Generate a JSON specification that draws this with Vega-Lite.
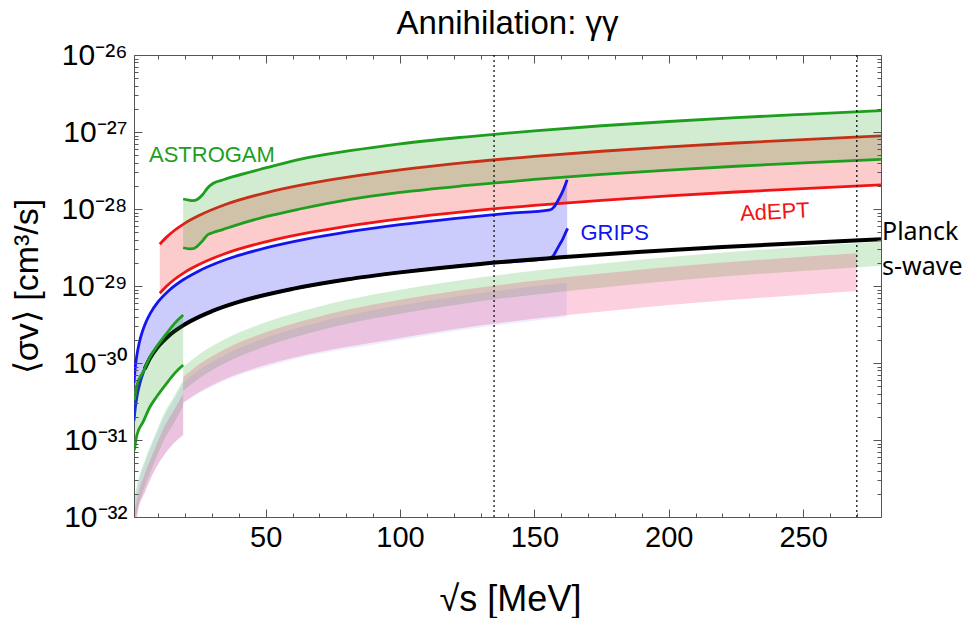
{
 "$schema": "https://vega.github.io/schema/vega-lite/v6.json",
 "width": 747, "height": 462,
 "autosize": {"type": "none"},
 "padding": {"left": 134, "top": 55, "right": 84, "bottom": 101},
 "background": "white",
 "title": {"text": "Annihilation: γγ", "font": "Arial, Liberation Sans, sans-serif", "fontSize": 33, "fontWeight": "normal", "color": "#000", "frame": "group", "anchor": "middle", "baseline": "alphabetic", "offset": -27},
 "config": {
  "view": {"stroke": "#555", "strokeWidth": 1},
  "axis": {"grid": false, "domain": false, "minExtent": 0, "tickColor": "#555", "tickWidth": 1, "labelFont": "Arial, Liberation Sans, sans-serif", "labelColor": "#000", "titleFont": "Arial, Liberation Sans, sans-serif", "titleColor": "#000", "titleFontWeight": "normal", "labelFlush": false, "labelOverlap": false, "labelBound": false}
 },
 "datasets": {
  "hatch": [
   {"set":"hASTROGAM","part":"hi","x":19.3,"lo":4.34e-31,"hi":8.9e-31},
   {"set":"hASTROGAM","part":"hi","x":25,"lo":6.25e-31,"hi":1.282e-30},
   {"set":"hASTROGAM","part":"hi","x":35,"lo":1.0e-30,"hi":2.05e-30},
   {"set":"hASTROGAM","part":"hi","x":50,"lo":1.654e-30,"hi":3.39e-30},
   {"set":"hASTROGAM","part":"hi","x":70,"lo":2.65e-30,"hi":5.43e-30},
   {"set":"hASTROGAM","part":"hi","x":90,"lo":3.77e-30,"hi":7.73e-30},
   {"set":"hASTROGAM","part":"hi","x":120,"lo":5.64e-30,"hi":1.156e-29},
   {"set":"hASTROGAM","part":"hi","x":150,"lo":7.71e-30,"hi":1.58e-29},
   {"set":"hASTROGAM","part":"hi","x":180,"lo":9.95e-30,"hi":2.04e-29},
   {"set":"hASTROGAM","part":"hi","x":210,"lo":1.239e-29,"hi":2.54e-29},
   {"set":"hASTROGAM","part":"hi","x":240,"lo":1.488e-29,"hi":3.05e-29},
   {"set":"hASTROGAM","part":"hi","x":279,"lo":1.839e-29,"hi":3.77e-29},
   {"set":"hAdEPT","part":"hi","x":19.3,"lo":3.07e-31,"hi":6.59e-31},
   {"set":"hAdEPT","part":"hi","x":25,"lo":4.14e-31,"hi":9.5e-31},
   {"set":"hAdEPT","part":"hi","x":35,"lo":6.2e-31,"hi":1.52e-30},
   {"set":"hAdEPT","part":"hi","x":50,"lo":9.4e-31,"hi":2.51e-30},
   {"set":"hAdEPT","part":"hi","x":70,"lo":1.39e-30,"hi":4.02e-30},
   {"set":"hAdEPT","part":"hi","x":90,"lo":1.84e-30,"hi":5.73e-30},
   {"set":"hAdEPT","part":"hi","x":120,"lo":2.75e-30,"hi":8.56e-30},
   {"set":"hAdEPT","part":"hi","x":150,"lo":3.76e-30,"hi":1.17e-29},
   {"set":"hAdEPT","part":"hi","x":180,"lo":4.86e-30,"hi":1.511e-29},
   {"set":"hAdEPT","part":"hi","x":210,"lo":6.05e-30,"hi":1.881e-29},
   {"set":"hAdEPT","part":"hi","x":240,"lo":7.26e-30,"hi":2.26e-29},
   {"set":"hAdEPT","part":"hi","x":270,"lo":8.6e-30,"hi":2.67e-29},
   {"set":"hGRIPS","part":"hi","x":19.3,"lo":2.97e-31,"hi":5.56e-31},
   {"set":"hGRIPS","part":"hi","x":25,"lo":4.0e-31,"hi":8.0e-31},
   {"set":"hGRIPS","part":"hi","x":35,"lo":5.94e-31,"hi":1.28e-30},
   {"set":"hGRIPS","part":"hi","x":50,"lo":8.9e-31,"hi":2.12e-30},
   {"set":"hGRIPS","part":"hi","x":70,"lo":1.32e-30,"hi":3.39e-30},
   {"set":"hGRIPS","part":"hi","x":90,"lo":1.73e-30,"hi":4.83e-30},
   {"set":"hGRIPS","part":"hi","x":120,"lo":2.59e-30,"hi":7.2e-30},
   {"set":"hGRIPS","part":"hi","x":150,"lo":3.54e-30,"hi":9.9e-30},
   {"set":"hGRIPS","part":"hi","x":162,"lo":3.95e-30,"hi":1.1e-29},
   {"set":"hASTROGAM","part":"lo","x":1.34,"lo":8.8e-33,"hi":1.93e-32},
   {"set":"hASTROGAM","part":"lo","x":2.57,"lo":1.38e-32,"hi":3.03e-32},
   {"set":"hASTROGAM","part":"lo","x":5.06,"lo":2.5e-32,"hi":5.5e-32},
   {"set":"hASTROGAM","part":"lo","x":8.78,"lo":5.3e-32,"hi":1.16e-31},
   {"set":"hASTROGAM","part":"lo","x":12.5,"lo":1.05e-31,"hi":2.31e-31},
   {"set":"hASTROGAM","part":"lo","x":16,"lo":1.69e-31,"hi":3.72e-31},
   {"set":"hASTROGAM","part":"lo","x":19.3,"lo":2.73e-31,"hi":6.0e-31},
   {"set":"hAdEPT","part":"lo","x":1.34,"lo":6.8e-33,"hi":1.29e-32},
   {"set":"hAdEPT","part":"lo","x":2.57,"lo":1.23e-32,"hi":2.02e-32},
   {"set":"hAdEPT","part":"lo","x":5.06,"lo":2.1e-32,"hi":3.67e-32},
   {"set":"hAdEPT","part":"lo","x":8.78,"lo":4.1e-32,"hi":7.7e-32},
   {"set":"hAdEPT","part":"lo","x":12.5,"lo":6.6e-32,"hi":1.54e-31},
   {"set":"hAdEPT","part":"lo","x":16,"lo":9.2e-32,"hi":2.48e-31},
   {"set":"hAdEPT","part":"lo","x":19.3,"lo":1.16e-31,"hi":4.0e-31},
   {"set":"hGRIPS","part":"lo","x":1.34,"lo":6.8e-33,"hi":1.75e-32},
   {"set":"hGRIPS","part":"lo","x":2.57,"lo":1.23e-32,"hi":2.75e-32},
   {"set":"hGRIPS","part":"lo","x":5.06,"lo":2.1e-32,"hi":5.0e-32},
   {"set":"hGRIPS","part":"lo","x":8.78,"lo":4.1e-32,"hi":1.05e-31},
   {"set":"hGRIPS","part":"lo","x":12.5,"lo":6.6e-32,"hi":2.1e-31},
   {"set":"hGRIPS","part":"lo","x":16,"lo":9.2e-32,"hi":3.38e-31},
   {"set":"hGRIPS","part":"lo","x":19.3,"lo":1.16e-31,"hi":5.45e-31}
  ],
  "areas": [
   {"set":"AdEPT","part":"m","x":10.6,"lo":8.06e-30,"hi":3.49e-29},
   {"set":"AdEPT","part":"m","x":13,"lo":9.88e-30,"hi":4.28e-29},
   {"set":"AdEPT","part":"m","x":16,"lo":1.215e-29,"hi":5.26e-29},
   {"set":"AdEPT","part":"m","x":20,"lo":1.516e-29,"hi":6.56e-29},
   {"set":"AdEPT","part":"m","x":25,"lo":1.885e-29,"hi":8.16e-29},
   {"set":"AdEPT","part":"m","x":35,"lo":2.64e-29,"hi":1.143e-28},
   {"set":"AdEPT","part":"m","x":50,"lo":3.75e-29,"hi":1.624e-28},
   {"set":"AdEPT","part":"m","x":65,"lo":4.86e-29,"hi":2.1e-28},
   {"set":"AdEPT","part":"m","x":80,"lo":5.96e-29,"hi":2.58e-28},
   {"set":"AdEPT","part":"m","x":100,"lo":7.43e-29,"hi":3.22e-28},
   {"set":"AdEPT","part":"m","x":125,"lo":9.29e-29,"hi":4.02e-28},
   {"set":"AdEPT","part":"m","x":150,"lo":1.114e-28,"hi":4.82e-28},
   {"set":"AdEPT","part":"m","x":175,"lo":1.297e-28,"hi":5.62e-28},
   {"set":"AdEPT","part":"m","x":200,"lo":1.479e-28,"hi":6.4e-28},
   {"set":"AdEPT","part":"m","x":225,"lo":1.663e-28,"hi":7.2e-28},
   {"set":"AdEPT","part":"m","x":250,"lo":1.841e-28,"hi":7.97e-28},
   {"set":"AdEPT","part":"m","x":279,"lo":2.056e-28,"hi":8.9e-28},
   {"set":"GRIPS","part":"m","x":1,"lo":1.78e-31,"hi":5.5e-31},
   {"set":"GRIPS","part":"m","x":1.5,"lo":2.64e-31,"hi":9.0e-31},
   {"set":"GRIPS","part":"m","x":2,"lo":3.48e-31,"hi":1.22e-30},
   {"set":"GRIPS","part":"m","x":3,"lo":5.13e-31,"hi":1.86e-30},
   {"set":"GRIPS","part":"m","x":4,"lo":6.78e-31,"hi":2.49e-30},
   {"set":"GRIPS","part":"m","x":5,"lo":8.4e-31,"hi":3.12e-30},
   {"set":"GRIPS","part":"m","x":7,"lo":1.161e-30,"hi":4.37e-30},
   {"set":"GRIPS","part":"m","x":10,"lo":1.637e-30,"hi":6.25e-30},
   {"set":"GRIPS","part":"m","x":14,"lo":2.265e-30,"hi":8.75e-30},
   {"set":"GRIPS","part":"m","x":19.3,"lo":3.08e-30,"hi":1.206e-29},
   {"set":"GRIPS","part":"m","x":25,"lo":3.95e-30,"hi":1.56e-29},
   {"set":"GRIPS","part":"m","x":35,"lo":5.47e-30,"hi":2.19e-29},
   {"set":"GRIPS","part":"m","x":50,"lo":7.71e-30,"hi":3.12e-29},
   {"set":"GRIPS","part":"m","x":65,"lo":9.93e-30,"hi":4.06e-29},
   {"set":"GRIPS","part":"m","x":80,"lo":1.214e-29,"hi":5.0e-29},
   {"set":"GRIPS","part":"m","x":100,"lo":1.503e-29,"hi":6.25e-29},
   {"set":"GRIPS","part":"m","x":120,"lo":1.79e-29,"hi":7.5e-29},
   {"set":"GRIPS","part":"m","x":140,"lo":2.08e-29,"hi":8.75e-29},
   {"set":"GRIPS","part":"m","x":155.8,"lo":2.3e-29,"hi":9.74e-29},
   {"set":"GRIPS","part":"m","x":157.5,"lo":2.325e-29,"hi":1.08e-28},
   {"set":"GRIPS","part":"m","x":159,"lo":2.35e-29,"hi":1.33e-28},
   {"set":"GRIPS","part":"m","x":160.5,"lo":2.37e-29,"hi":1.68e-28},
   {"set":"GRIPS","part":"m","x":162.2,"lo":2.39e-29,"hi":2.4e-28},
   {"set":"ASTROGAM","part":"hi","x":19.3,"lo":3.14e-29,"hi":1.349e-28},
   {"set":"ASTROGAM","part":"hi","x":21.5,"lo":3.04e-29,"hi":1.3e-28},
   {"set":"ASTROGAM","part":"hi","x":23,"lo":3.05e-29,"hi":1.282e-28},
   {"set":"ASTROGAM","part":"hi","x":24.5,"lo":3.28e-29,"hi":1.33e-28},
   {"set":"ASTROGAM","part":"hi","x":26.5,"lo":3.85e-29,"hi":1.53e-28},
   {"set":"ASTROGAM","part":"hi","x":28.3,"lo":4.6e-29,"hi":1.86e-28},
   {"set":"ASTROGAM","part":"hi","x":30.5,"lo":4.95e-29,"hi":2.158e-28},
   {"set":"ASTROGAM","part":"hi","x":34,"lo":5.4e-29,"hi":2.38e-28},
   {"set":"ASTROGAM","part":"hi","x":37.9,"lo":6.0e-29,"hi":2.626e-28},
   {"set":"ASTROGAM","part":"hi","x":50.4,"lo":8.0e-29,"hi":3.44e-28},
   {"set":"ASTROGAM","part":"hi","x":62.7,"lo":1.0e-28,"hi":4.42e-28},
   {"set":"ASTROGAM","part":"hi","x":81.4,"lo":1.336e-28,"hi":5.72e-28},
   {"set":"ASTROGAM","part":"hi","x":100,"lo":1.643e-28,"hi":7.03e-28},
   {"set":"ASTROGAM","part":"hi","x":125,"lo":2.024e-28,"hi":8.67e-28},
   {"set":"ASTROGAM","part":"hi","x":150,"lo":2.42e-28,"hi":1.037e-27},
   {"set":"ASTROGAM","part":"hi","x":175,"lo":2.81e-28,"hi":1.205e-27},
   {"set":"ASTROGAM","part":"hi","x":200,"lo":3.2e-28,"hi":1.368e-27},
   {"set":"ASTROGAM","part":"hi","x":225,"lo":3.59e-28,"hi":1.535e-27},
   {"set":"ASTROGAM","part":"hi","x":250,"lo":3.97e-28,"hi":1.698e-27},
   {"set":"ASTROGAM","part":"hi","x":279,"lo":4.42e-28,"hi":1.89e-27},
   {"set":"ASTROGAM","part":"lo","x":1.15,"lo":7.4e-32,"hi":3.3e-31},
   {"set":"ASTROGAM","part":"lo","x":2.08,"lo":1.16e-31,"hi":5.18e-31},
   {"set":"ASTROGAM","part":"lo","x":4.43,"lo":1.73e-31,"hi":7.71e-31},
   {"set":"ASTROGAM","part":"lo","x":6.92,"lo":2.68e-31,"hi":1.197e-30},
   {"set":"ASTROGAM","part":"lo","x":9.42,"lo":3.65e-31,"hi":1.63e-30},
   {"set":"ASTROGAM","part":"lo","x":13.14,"lo":5.45e-31,"hi":2.43e-30},
   {"set":"ASTROGAM","part":"lo","x":16.2,"lo":7.4e-31,"hi":3.3e-30},
   {"set":"ASTROGAM","part":"lo","x":19.3,"lo":9.4e-31,"hi":4.2e-30}
  ],
  "lines": [
   {"set":"GRIPS","curve":"GR_lo","x":1,"y":1.78e-31},
   {"set":"GRIPS","curve":"GR_lo","x":1.5,"y":2.64e-31},
   {"set":"GRIPS","curve":"GR_lo","x":2,"y":3.48e-31},
   {"set":"GRIPS","curve":"GR_lo","x":3,"y":5.13e-31},
   {"set":"GRIPS","curve":"GR_lo","x":5,"y":8.4e-31},
   {"set":"GRIPS","curve":"GR_lo","x":10,"y":1.637e-30},
   {"set":"GRIPS","curve":"GR_lo","x":20,"y":3.19e-30},
   {"set":"GRIPS","curve":"GR_lo","x":35,"y":5.47e-30},
   {"set":"GRIPS","curve":"GR_lo","x":50,"y":7.71e-30},
   {"set":"GRIPS","curve":"GR_lo","x":80,"y":1.214e-29},
   {"set":"GRIPS","curve":"GR_lo","x":100,"y":1.503e-29},
   {"set":"GRIPS","curve":"GR_lo","x":130,"y":1.936e-29},
   {"set":"GRIPS","curve":"GR_lo","x":155.8,"y":2.3e-29},
   {"set":"GRIPS","curve":"GR_lo","x":157.3,"y":2.55e-29},
   {"set":"GRIPS","curve":"GR_lo","x":158.3,"y":2.94e-29},
   {"set":"GRIPS","curve":"GR_lo","x":159.5,"y":3.5e-29},
   {"set":"GRIPS","curve":"GR_lo","x":160.7,"y":4.16e-29},
   {"set":"GRIPS","curve":"GR_lo","x":161.6,"y":4.9e-29},
   {"set":"GRIPS","curve":"GR_lo","x":162.4,"y":5.6e-29}
  ],
  "planck": [
   {"x":5,"y":8.4e-31},{"x":7,"y":1.161e-30},{"x":10,"y":1.637e-30},{"x":14,"y":2.265e-30},
   {"x":20,"y":3.19e-30},{"x":30,"y":4.71e-30},{"x":40,"y":6.22e-30},{"x":60,"y":9.18e-30},
   {"x":80,"y":1.214e-29},{"x":100,"y":1.503e-29},{"x":130,"y":1.936e-29},{"x":160,"y":2.36e-29},
   {"x":190,"y":2.79e-29},{"x":220,"y":3.21e-29},{"x":250,"y":3.63e-29},{"x":279,"y":4.04e-29}
  ],
  "marks": [{"x":135},{"x":270}],
  "labels": [
   {"set":"ASTROGAM","x":30.0,"y":5.02e-28,"text":"ASTROGAM"},
   {"set":"GRIPS","x":179.9,"y":4.88e-29,"text":"GRIPS"},
   {"set":"AdEPT","x":239.5,"y":9.14e-29,"text":"AdEPT"}
  ],
  "notes": [
   {"x":279,"y":5.02e-29,"text":"Planck"},
   {"x":279,"y":1.766e-29,"text":"s-wave"}
  ]
 },
 "resolve": {"axis": {"x": "independent", "y": "independent"}},
 "layer": [
  {
   "data": {"name": "hatch"},
   "mark": {"type": "area", "interpolate": "monotone", "clip": true},
   "encoding": {
    "x": {"field": "x", "type": "quantitative", "scale": {"domain": [1, 279], "nice": false, "zero": false},
     "axis": {"orient": "bottom", "values": [50, 100, 150, 200, 250], "ticks": false, "labelPadding": 6, "labelFontSize": 29, "title": "√s  [MeV]", "titleFontSize": 36, "titleX": 376, "titleY": 82, "titleAlign": "center", "titleBaseline": "middle", "titleAngle": 0}},
    "y": {"field": "hi", "type": "quantitative", "stack": null, "scale": {"type": "log", "domain": [1e-32, 1e-26], "nice": false},
     "axis": {"orient": "left", "values": [1e-32, 1e-31, 1e-30, 1e-29, 1e-28, 1e-27, 1e-26], "ticks": false, "labelPadding": 7, "labelFontSize": 30,
      "labelExpr": "'10⁻' + ['⁰','¹','²','³','⁴','⁵','⁶','⁷','⁸','⁹'][floor(round(-log(datum.value)/LN10)/10)] + ['⁰','¹','²','³','⁴','⁵','⁶','⁷','⁸','⁹'][round(-log(datum.value)/LN10)%10]",
      "title": "⟨σv⟩ [cm³/s]", "titleFontSize": 34, "titleX": -107, "titleY": 231, "titleAngle": -90, "titleAlign": "center", "titleBaseline": "middle"}},
    "y2": {"field": "lo"},
    "fillOpacity": {"condition": {"test": "datum.set === 'hGRIPS'", "value": 0.1}, "value": 0.2},
    "color": {"field": "set", "type": "nominal", "legend": null, "scale": {"domain": ["ASTROGAM", "AdEPT", "GRIPS", "Planck", "hASTROGAM", "hAdEPT", "hGRIPS"], "range": ["#1e9e1e", "#f01414", "#1414f0", "#000000", "#22aa22", "#f0145a", "#5a5aff"]}},
    "detail": {"field": "part"}
   }
  },
  {
   "data": {"name": "areas"},
   "transform": [{"filter": "datum.set === 'AdEPT' || datum.set === 'GRIPS'"}],
   "mark": {"type": "area", "fillOpacity": 0.22, "interpolate": "monotone", "clip": true},
   "encoding": {
    "x": {"field": "x", "type": "quantitative", "scale": {"domain": [1, 279], "nice": false, "zero": false},
     "axis": {"orient": "bottom", "values": [50, 100, 150, 200, 250], "labels": false, "tickSize": 8, "offset": -8, "title": null, "zindex": 1}},
    "y": {"field": "hi", "type": "quantitative", "stack": null, "scale": {"type": "log", "domain": [1e-32, 1e-26], "nice": false},
     "axis": {"orient": "left", "values": [1e-32, 1e-31, 1e-30, 1e-29, 1e-28, 1e-27, 1e-26], "labels": false, "tickSize": 8, "offset": -8, "title": null, "zindex": 1}},
    "y2": {"field": "lo"},
    "color": {"field": "set", "type": "nominal", "legend": null, "scale": {"domain": ["ASTROGAM", "AdEPT", "GRIPS", "Planck", "hASTROGAM", "hAdEPT", "hGRIPS"], "range": ["#1e9e1e", "#f01414", "#1414f0", "#000000", "#22aa22", "#f0145a", "#5a5aff"]}},
    "detail": {"field": "part"}
   }
  },
  {
   "data": {"name": "areas"},
   "transform": [
    {"filter": "datum.set === 'AdEPT' || datum.set === 'GRIPS'"},
    {"fold": ["lo", "hi"], "as": ["key", "val"]},
    {"filter": "!(datum.set === 'GRIPS' && datum.key === 'lo')"}
   ],
   "mark": {"type": "line", "strokeWidth": 2.8, "interpolate": "monotone", "clip": true},
   "encoding": {
    "x": {"field": "x", "type": "quantitative", "scale": {"domain": [1, 279], "nice": false, "zero": false},
     "axis": {"orient": "bottom", "values": [10, 20, 30, 40, 60, 70, 80, 90, 110, 120, 130, 140, 160, 170, 180, 190, 210, 220, 230, 240, 260, 270], "labels": false, "tickSize": 4, "offset": -4, "title": null, "zindex": 1}},
    "y": {"field": "val", "type": "quantitative", "scale": {"type": "log", "domain": [1e-32, 1e-26], "nice": false},
     "axis": {"orient": "left", "values": [2e-32,3e-32,4e-32,5e-32,6e-32,7e-32,8e-32,9e-32,2e-31,3e-31,4e-31,5e-31,6e-31,7e-31,8e-31,9e-31,2e-30,3e-30,4e-30,5e-30,6e-30,7e-30,8e-30,9e-30,2e-29,3e-29,4e-29,5e-29,6e-29,7e-29,8e-29,9e-29,2e-28,3e-28,4e-28,5e-28,6e-28,7e-28,8e-28,9e-28,2e-27,3e-27,4e-27,5e-27,6e-27,7e-27,8e-27,9e-27], "labels": false, "tickSize": 4, "offset": -4, "title": null, "zindex": 1}},
    "color": {"field": "set", "type": "nominal", "legend": null, "scale": {"domain": ["ASTROGAM", "AdEPT", "GRIPS", "Planck", "hASTROGAM", "hAdEPT", "hGRIPS"], "range": ["#1e9e1e", "#f01414", "#1414f0", "#000000", "#22aa22", "#f0145a", "#5a5aff"]}},
    "detail": [{"field": "part"}, {"field": "key"}]
   }
  },
  {
   "data": {"name": "lines"},
   "mark": {"type": "line", "strokeWidth": 2.8, "interpolate": "monotone", "clip": true, "color": "#1414f0"},
   "encoding": {
    "x": {"field": "x", "type": "quantitative", "scale": {"domain": [1, 279], "nice": false, "zero": false}, "axis": null},
    "y": {"field": "y", "type": "quantitative", "scale": {"type": "log", "domain": [1e-32, 1e-26], "nice": false}, "axis": null}
   }
  },
  {
   "data": {"name": "planck"},
   "mark": {"type": "line", "strokeWidth": 4, "interpolate": "monotone", "clip": true, "color": "#000000"},
   "encoding": {
    "x": {"field": "x", "type": "quantitative", "scale": {"domain": [1, 279], "nice": false, "zero": false}, "axis": null},
    "y": {"field": "y", "type": "quantitative", "scale": {"type": "log", "domain": [1e-32, 1e-26], "nice": false}, "axis": null}
   }
  },
  {
   "data": {"name": "areas"},
   "transform": [{"filter": "datum.set === 'ASTROGAM'"}],
   "mark": {"type": "area", "fillOpacity": 0.2, "interpolate": "monotone", "clip": true},
   "encoding": {
    "x": {"field": "x", "type": "quantitative", "scale": {"domain": [1, 279], "nice": false, "zero": false},
     "axis": {"orient": "top", "values": [50, 100, 150, 200, 250], "labels": false, "tickSize": 8, "offset": -8, "title": null, "zindex": 1}},
    "y": {"field": "hi", "type": "quantitative", "stack": null, "scale": {"type": "log", "domain": [1e-32, 1e-26], "nice": false},
     "axis": {"orient": "right", "values": [1e-32, 1e-31, 1e-30, 1e-29, 1e-28, 1e-27, 1e-26], "labels": false, "tickSize": 8, "offset": -8, "title": null, "zindex": 1}},
    "y2": {"field": "lo"},
    "color": {"field": "set", "type": "nominal", "legend": null, "scale": {"domain": ["ASTROGAM", "AdEPT", "GRIPS", "Planck", "hASTROGAM", "hAdEPT", "hGRIPS"], "range": ["#1e9e1e", "#f01414", "#1414f0", "#000000", "#22aa22", "#f0145a", "#5a5aff"]}},
    "detail": {"field": "part"}
   }
  },
  {
   "data": {"name": "areas"},
   "transform": [
    {"filter": "datum.set === 'ASTROGAM'"},
    {"fold": ["lo", "hi"], "as": ["key", "val"]}
   ],
   "mark": {"type": "line", "strokeWidth": 2.8, "interpolate": "monotone", "clip": true},
   "encoding": {
    "x": {"field": "x", "type": "quantitative", "scale": {"domain": [1, 279], "nice": false, "zero": false},
     "axis": {"orient": "top", "values": [10, 20, 30, 40, 60, 70, 80, 90, 110, 120, 130, 140, 160, 170, 180, 190, 210, 220, 230, 240, 260, 270], "labels": false, "tickSize": 4, "offset": -4, "title": null, "zindex": 1}},
    "y": {"field": "val", "type": "quantitative", "scale": {"type": "log", "domain": [1e-32, 1e-26], "nice": false},
     "axis": {"orient": "right", "values": [2e-32,3e-32,4e-32,5e-32,6e-32,7e-32,8e-32,9e-32,2e-31,3e-31,4e-31,5e-31,6e-31,7e-31,8e-31,9e-31,2e-30,3e-30,4e-30,5e-30,6e-30,7e-30,8e-30,9e-30,2e-29,3e-29,4e-29,5e-29,6e-29,7e-29,8e-29,9e-29,2e-28,3e-28,4e-28,5e-28,6e-28,7e-28,8e-28,9e-28,2e-27,3e-27,4e-27,5e-27,6e-27,7e-27,8e-27,9e-27], "labels": false, "tickSize": 4, "offset": -4, "title": null, "zindex": 1}},
    "color": {"field": "set", "type": "nominal", "legend": null, "scale": {"domain": ["ASTROGAM", "AdEPT", "GRIPS", "Planck", "hASTROGAM", "hAdEPT", "hGRIPS"], "range": ["#1e9e1e", "#f01414", "#1414f0", "#000000", "#22aa22", "#f0145a", "#5a5aff"]}},
    "detail": [{"field": "part"}, {"field": "key"}]
   }
  },
  {
   "data": {"name": "marks"},
   "mark": {"type": "rule", "color": "#000", "strokeWidth": 1.2, "strokeDash": [2, 3]},
   "encoding": {
    "x": {"field": "x", "type": "quantitative", "scale": {"domain": [1, 279], "nice": false, "zero": false}, "axis": null}
   }
  },
  {
   "data": {"name": "labels"},
   "mark": {"type": "text", "font": "Arial, Liberation Sans, sans-serif", "fontSize": 22, "align": "center", "baseline": "middle"},
   "encoding": {
    "x": {"field": "x", "type": "quantitative", "scale": {"domain": [1, 279], "nice": false, "zero": false}, "axis": null},
    "y": {"field": "y", "type": "quantitative", "scale": {"type": "log", "domain": [1e-32, 1e-26], "nice": false}, "axis": null},
    "text": {"field": "text"},
    "angle": {"condition": {"test": "datum.set === 'AdEPT'", "value": 357}, "value": 0},
    "color": {"field": "set", "type": "nominal", "legend": null, "scale": {"domain": ["ASTROGAM", "AdEPT", "GRIPS", "Planck", "hASTROGAM", "hAdEPT", "hGRIPS"], "range": ["#1e9e1e", "#f01414", "#1414f0", "#000000", "#22aa22", "#f0145a", "#5a5aff"]}}
   }
  },
  {
   "data": {"name": "notes"},
   "mark": {"type": "text", "font": "Noto Sans", "fontSize": 25, "align": "left", "baseline": "middle", "color": "#000", "dx": 1},
   "encoding": {
    "x": {"field": "x", "type": "quantitative", "scale": {"domain": [1, 279], "nice": false, "zero": false}, "axis": null},
    "y": {"field": "y", "type": "quantitative", "scale": {"type": "log", "domain": [1e-32, 1e-26], "nice": false}, "axis": null},
    "text": {"field": "text"}
   }
  }
 ]
}
